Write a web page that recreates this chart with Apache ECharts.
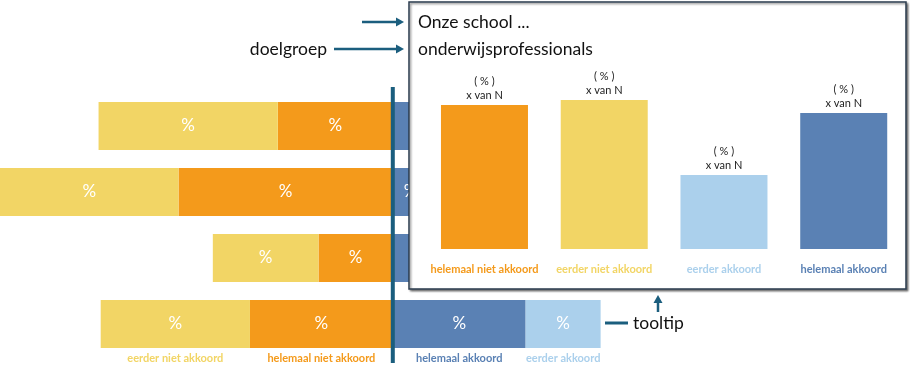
<!DOCTYPE html>
<html>
<head>
<meta charset="utf-8">
<script src="https://cdn.jsdelivr.net/npm/echarts@6/dist/echarts.min.js"></script>
<style>
html,body{margin:0;padding:0;background:#fff;}
#chart{width:910px;height:374px;}
</style>
</head>
<body>
<div id="chart"></div>
<script>
// ---- data ----
const rows = ['stelling 1', 'stelling 2', 'stelling 3', 'stelling 4'];
const helemaalNietAkkoord = [16.1, 30.0, 10.4, 20.0];
const eerderNietAkkoord = [25.1, 25.1, 14.8, 20.9];
const helemaalAkkoord = [22, 5, 30, 18.6];
const eerderAkkoord = [12, 10, 15, 10.5];
const answerNames = ['helemaal niet akkoord', 'eerder niet akkoord', 'eerder akkoord', 'helemaal akkoord'];
const schoolValues = [36, 37.25, 18.5, 34];
const segmentLabel = '%';
const schoolLabel = '( % )\nx van N';
const centerLine = [[0, 0], [0, 1]];

// ---- styles ----
const C = {
  hna: '#F49A1B',
  ena: '#F2D565',
  ea: '#ABD0EC',
  ha: '#5A81B4',
  line: '#1B5E7E',
  text: '#111111'
};
const FONT = 'Lato, "Noto Sans", sans-serif';
const answerColors = [C.hna, C.ena, C.ea, C.ha];
const lastRow = rows.length - 1;

function mainSeries(name, values, color, sign) {
  return {
    type: 'bar', name: name, stack: 'main', barWidth: 48,
    xAxisIndex: 0, yAxisIndex: 0, silent: true,
    data: values.map(v => sign * v),
    itemStyle: { color: color },
    label: { show: true, position: 'inside', formatter: segmentLabel, color: '#fff', fontSize: 17, fontFamily: FONT }
  };
}
function ghostSeries(name, values, color, sign) {
  return {
    type: 'bar', name: name + ' label', stack: 'ghost', barWidth: 48, barGap: '-100%',
    xAxisIndex: 0, yAxisIndex: 0, silent: true,
    data: values.map((v, i) => i === lastRow ? sign * v : '-'),
    itemStyle: { color: 'rgba(0,0,0,0)' },
    label: { show: true, position: 'bottom', distance: 5, formatter: name, color: color, fontSize: 11, fontWeight: 'bold', fontFamily: FONT }
  };
}

const chart = echarts.init(document.getElementById('chart'), null, { renderer: 'canvas' });

const option = {
  animation: false,
  backgroundColor: '#fff',
  grid: [
    { left: 0, width: 907, top: 93, height: 264 },
    { left: 0, width: 907, top: 87, height: 276 },
    { left: 424.6, width: 479, top: 89, height: 160 }
  ],
  xAxis: [
    { type: 'value', gridIndex: 0, min: -55, max: 72, show: false },
    { type: 'value', gridIndex: 1, min: -55, max: 72, show: false },
    {
      type: 'category', gridIndex: 2, data: answerNames, z: 20,
      axisLine: { show: false }, axisTick: { show: false },
      axisLabel: {
        margin: 15, interval: 0,
        formatter: (v, i) => '{c' + i + '|' + v + '}',
        rich: {
          c0: { color: C.hna, fontSize: 11, fontWeight: 'bold', fontFamily: FONT },
          c1: { color: C.ena, fontSize: 11, fontWeight: 'bold', fontFamily: FONT },
          c2: { color: C.ea, fontSize: 11, fontWeight: 'bold', fontFamily: FONT },
          c3: { color: C.ha, fontSize: 11, fontWeight: 'bold', fontFamily: FONT }
        }
      }
    }
  ],
  yAxis: [
    { type: 'category', gridIndex: 0, data: rows, inverse: true, show: false },
    { type: 'value', gridIndex: 1, min: 0, max: 1, show: false },
    { type: 'value', gridIndex: 2, min: 0, max: 40, show: false }
  ],
  series: [
    mainSeries('helemaal niet akkoord', helemaalNietAkkoord, C.hna, -1),
    mainSeries('eerder niet akkoord', eerderNietAkkoord, C.ena, -1),
    mainSeries('helemaal akkoord', helemaalAkkoord, C.ha, 1),
    mainSeries('eerder akkoord', eerderAkkoord, C.ea, 1),
    ghostSeries('helemaal niet akkoord', helemaalNietAkkoord, C.hna, -1),
    ghostSeries('eerder niet akkoord', eerderNietAkkoord, C.ena, -1),
    ghostSeries('helemaal akkoord', helemaalAkkoord, C.ha, 1),
    ghostSeries('eerder akkoord', eerderAkkoord, C.ea, 1),
    {
      type: 'line', xAxisIndex: 1, yAxisIndex: 1, data: centerLine, z: 5, silent: true,
      symbol: 'none', lineStyle: { color: C.line, width: 4 }
    },
    {
      type: 'bar', xAxisIndex: 2, yAxisIndex: 2, z: 20, silent: true, barWidth: 87,
      data: schoolValues.map((v, i) => ({ value: v, itemStyle: { color: answerColors[i] } })),
      label: {
        show: true, position: 'top', distance: 3, formatter: schoolLabel,
        color: '#222', fontSize: 11, lineHeight: 14, fontFamily: FONT
      }
    }
  ],
  graphic: [
    {
      type: 'rect', z: 10, silent: true,
      shape: { x: 409, y: 2, width: 497, height: 287 },
      style: { fill: '#fff', stroke: '#2B3D4F', lineWidth: 1.5, shadowBlur: 2, shadowOffsetX: 1.5, shadowOffsetY: 1.5, shadowColor: 'rgba(0,0,0,0.45)' }
    },
    { type: 'text', z: 20, x: 418, y: 22, style: { text: 'Onze school ...', fill: C.text, fontSize: 17.5, fontFamily: FONT, textVerticalAlign: 'middle' } },
    { type: 'text', z: 20, x: 418, y: 49, style: { text: 'onderwijsprofessionals', fill: C.text, fontSize: 17.5, fontFamily: FONT, textVerticalAlign: 'middle' } },
    { type: 'text', z: 20, x: 327, y: 49, style: { text: 'doelgroep', fill: C.text, fontSize: 17.5, fontFamily: FONT, textAlign: 'right', textVerticalAlign: 'middle' } },
    { type: 'text', z: 20, x: 633, y: 323, style: { text: 'tooltip', fill: C.text, fontSize: 17.5, fontFamily: FONT, textVerticalAlign: 'middle' } },
    { type: 'line', z: 20, shape: { x1: 362, y1: 22, x2: 397, y2: 22 }, style: { stroke: C.line, lineWidth: 2.5 } },
    { type: 'polygon', z: 20, shape: { points: [[396, 17.5], [404, 22], [396, 26.5]] }, style: { fill: C.line } },
    { type: 'line', z: 20, shape: { x1: 334, y1: 49, x2: 397, y2: 49 }, style: { stroke: C.line, lineWidth: 2.5 } },
    { type: 'polygon', z: 20, shape: { points: [[396, 44.5], [404, 49], [396, 53.5]] }, style: { fill: C.line } },
    { type: 'line', z: 20, shape: { x1: 658, y1: 312, x2: 658, y2: 302 }, style: { stroke: C.line, lineWidth: 2.5 } },
    { type: 'polygon', z: 20, shape: { points: [[653.5, 303], [658, 295], [662.5, 303]] }, style: { fill: C.line } },
    { type: 'line', z: 20, shape: { x1: 605, y1: 323, x2: 628, y2: 323 }, style: { stroke: C.line, lineWidth: 3 } }
  ]
};
chart.setOption(option);
</script>
</body>
</html>
